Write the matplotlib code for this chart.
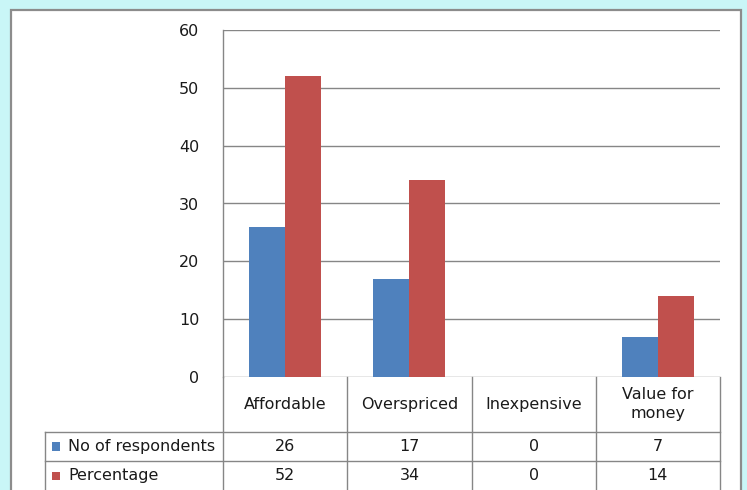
import matplotlib
matplotlib.use('Agg')
import matplotlib.pyplot as plt
from matplotlib.patches import Rectangle
from matplotlib.lines import Line2D
import numpy as np

categories = ["Affordable", "Overspriced", "Inexpensive", "Value for\nmoney"]
respondents = [26, 17, 0, 7]
percentage = [52, 34, 0, 14]
series_names = ["No of respondents", "Percentage"]
series_colors = ["#4F81BD", "#C0504D"]
y_ticks = [0, 10, 20, 30, 40, 50, 60]

W, H = 747, 490
FS = 11.5
TC = '#1a1a1a'
plt.rcParams['font.family'] = ['DejaVu Sans']
fig = plt.figure(figsize=(W / 100, H / 100), dpi=100, facecolor='#c9f6f7')

def fx(x): return x / W
def fy(y): return 1 - y / H

# chart frame
fig.patches.append(Rectangle((fx(11), fy(500)), fx(741) - fx(11), fy(10) - fy(500),
                             transform=fig.transFigure, facecolor='white',
                             edgecolor='#8c8c8c', lw=1.6, zorder=-5))

PL, PR, PT, PB = 223, 720, 30, 377
ax = fig.add_axes([fx(PL), fy(PB), fx(PR) - fx(PL), fy(PT) - fy(PB)])
ax.set_facecolor('none')
ax.set_zorder(2)
x = np.arange(len(categories))
bw = 36 / 124
ax.bar(x - bw / 2, respondents, width=bw, color=series_colors[0], zorder=3)
ax.bar(x + bw / 2, percentage, width=bw, color=series_colors[1], zorder=3)
ax.set_xlim(-0.5, len(categories) - 0.5)
ax.set_ylim(0, 60)
ax.set_yticks(y_ticks)
ax.set_yticklabels([str(t) for t in y_ticks], fontsize=FS, color=TC)
ax.tick_params(axis='y', length=0, pad=17)
ax.set_xticks([])
for t in y_ticks:
    ax.axhline(t, color='#868686', lw=1, zorder=1)
for s in ['top', 'right', 'bottom']:
    ax.spines[s].set_visible(False)
ax.spines['left'].set_color('#868686')
ax.spines['left'].set_linewidth(1)

# data table
lc = '#868686'
def hline(y, x0, x1):
    fig.add_artist(Line2D([fx(x0), fx(x1)], [fy(y), fy(y)], color=lc, lw=1, transform=fig.transFigure))
def vline(xp, y0, y1):
    fig.add_artist(Line2D([fx(xp), fx(xp)], [fy(y0), fy(y1)], color=lc, lw=1, transform=fig.transFigure))

col_edges = [PL + i * (PR - PL) / len(categories) for i in range(len(categories) + 1)]
row_y = [PB, 432, 461, 490]
hline(row_y[1], 45, PR)
hline(row_y[2], 45, PR)
vline(45, row_y[1], 495)
vline(PL, PB, 495)
for ce in col_edges[1:]:
    vline(ce, PB, 495)

for i, cat in enumerate(categories):
    cx = (col_edges[i] + col_edges[i + 1]) / 2
    fig.text(fx(cx), fy(404), cat, ha='center', va='center', fontsize=FS,
             color=TC, linespacing=1.4)
    for r, vals in enumerate([respondents, percentage]):
        cy = (row_y[r + 1] + row_y[r + 2]) / 2
        fig.text(fx(cx), fy(cy), str(vals[i]), ha='center', va='center',
                 fontsize=FS, color=TC)

for r, name in enumerate(series_names):
    cy = (row_y[r + 1] + row_y[r + 2]) / 2
    fig.patches.append(Rectangle((fx(52), fy(cy + 4)), fx(60) - fx(52), fy(cy - 4) - fy(cy + 4),
                                 transform=fig.transFigure, facecolor=series_colors[r],
                                 edgecolor='none'))
    fig.text(fx(68), fy(cy), name, ha='left', va='center', fontsize=FS, color=TC)

fig.savefig('out.png', dpi=100, facecolor=fig.get_facecolor())
